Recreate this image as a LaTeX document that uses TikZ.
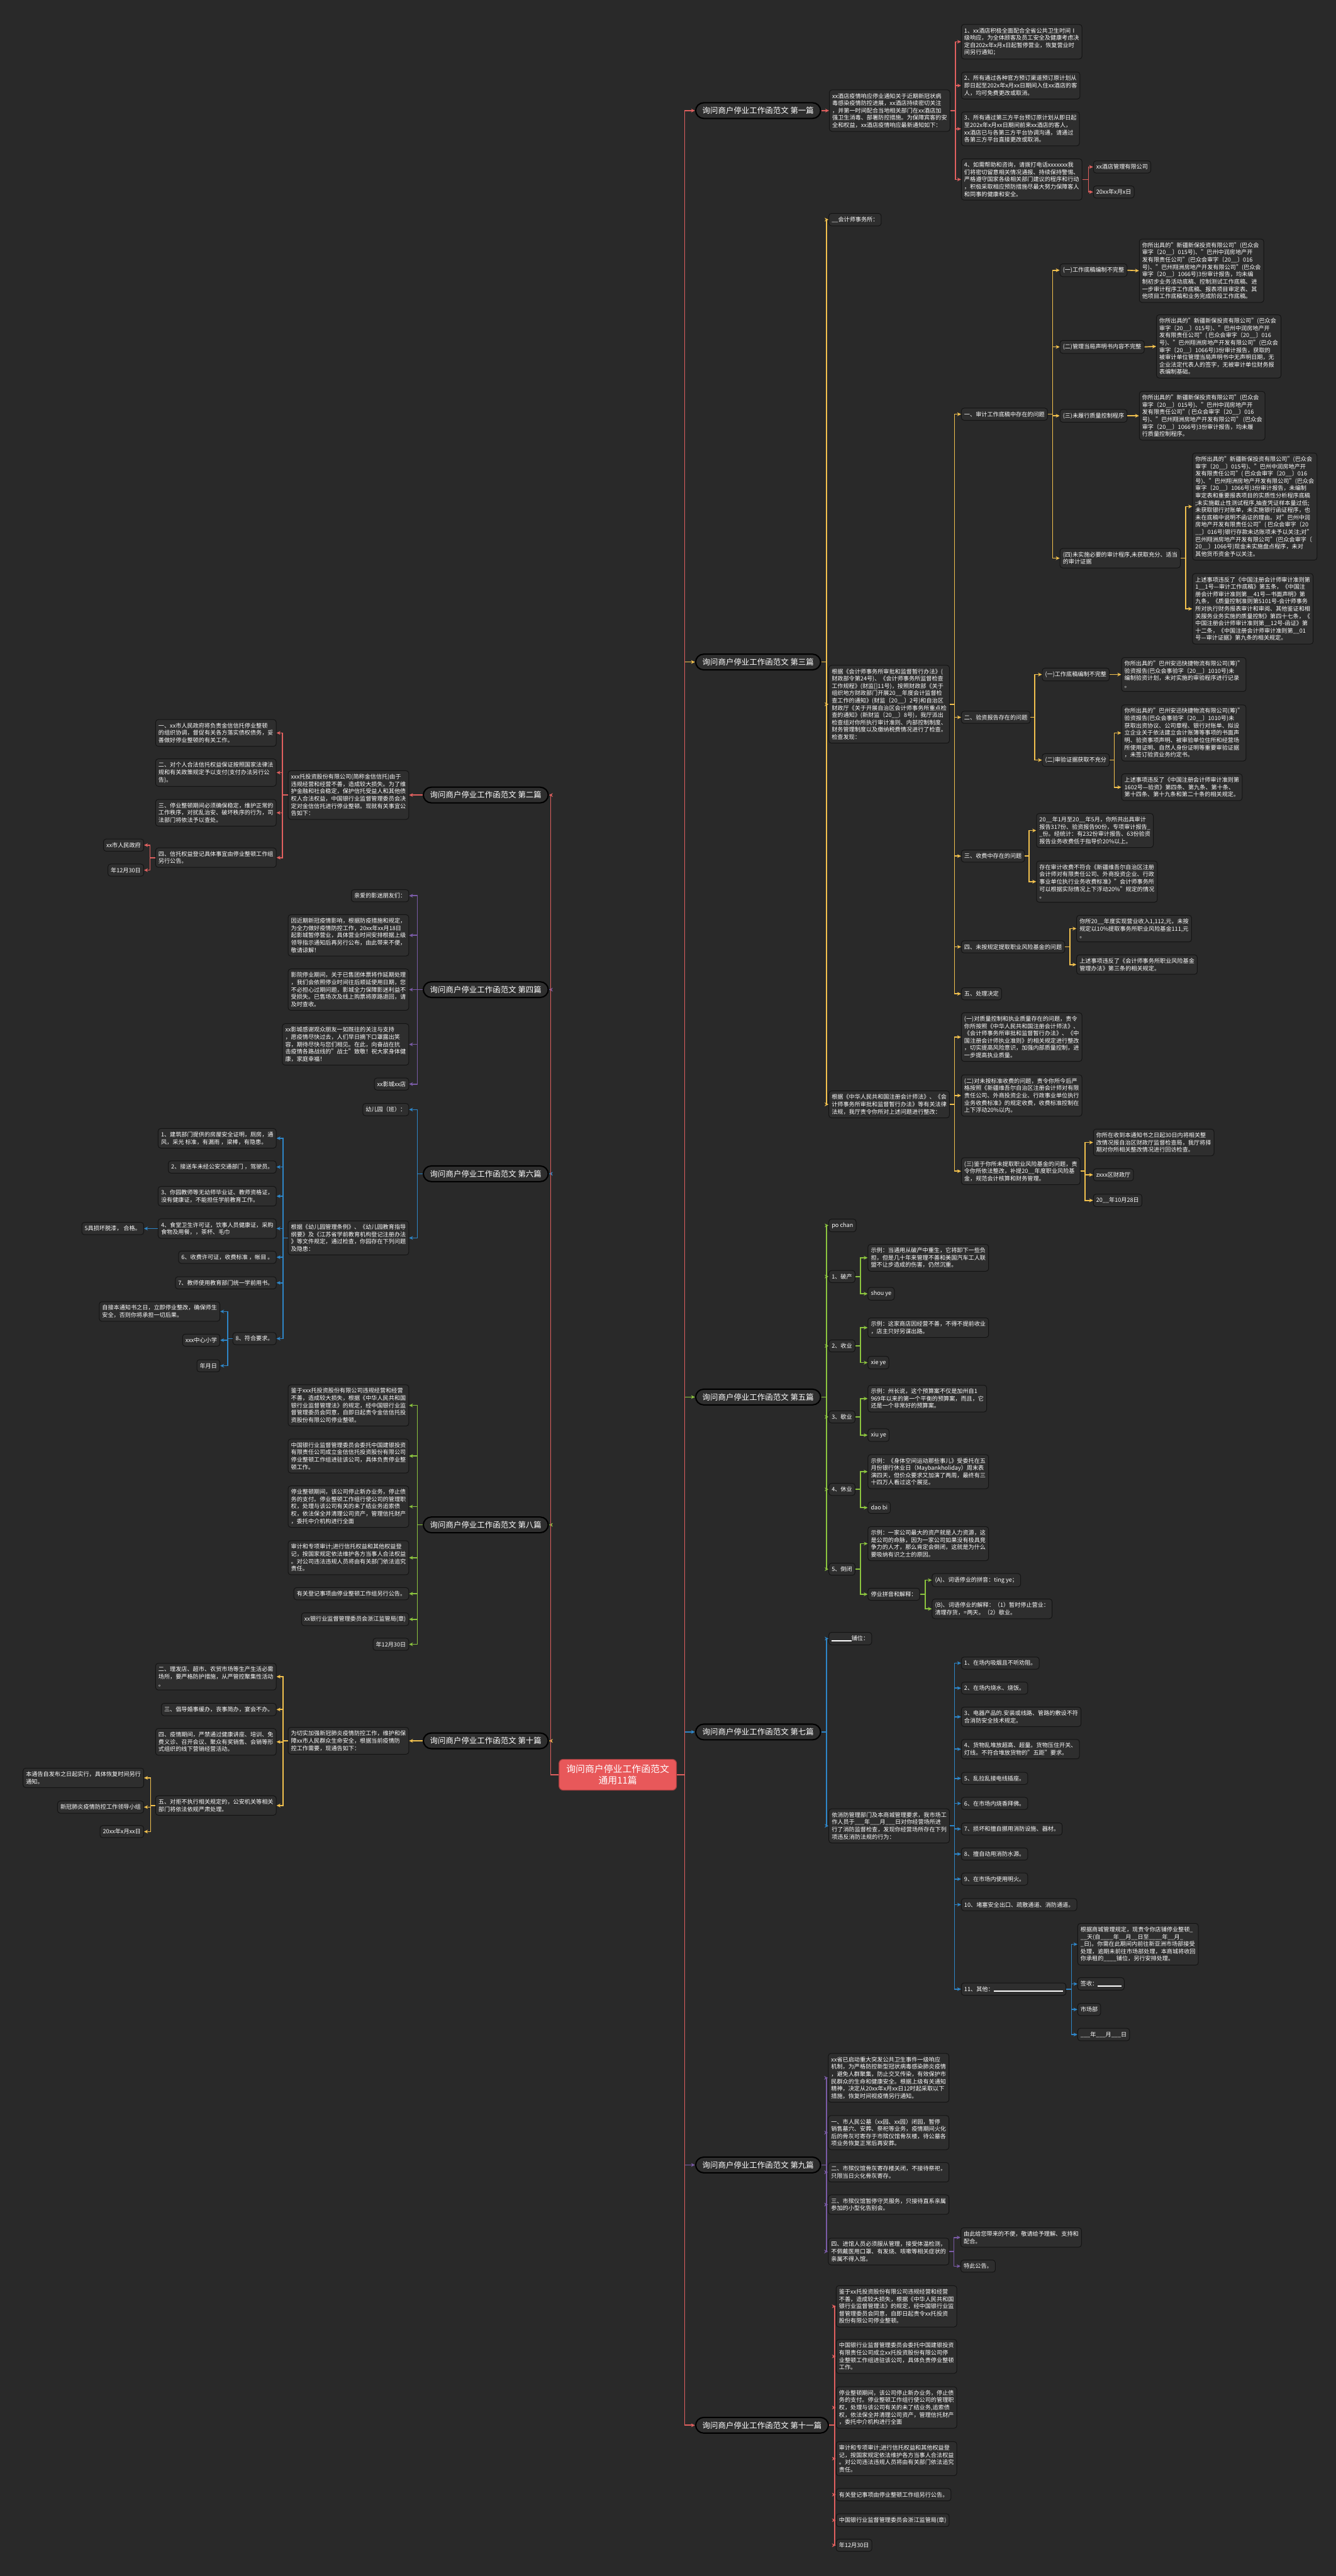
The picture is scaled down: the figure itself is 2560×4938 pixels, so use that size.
\documentclass[tikz,border=0pt]{standalone}
\usepackage{fontspec}
\setmainfont{Noto Sans CJK SC}
\usetikzlibrary{arrows.meta}
\definecolor{bg}{HTML}{292929}
\definecolor{boxfill}{HTML}{2E2E2E}
\definecolor{boxline}{HTML}{141414}
\definecolor{cred}{HTML}{E0605F}
\definecolor{cyel}{HTML}{F2C14E}
\definecolor{cgrn}{HTML}{8CC43F}
\definecolor{cblu}{HTML}{2E86C8}
\definecolor{cpur}{HTML}{7A5BA6}
\definecolor{rootred}{HTML}{E8585A}
\newcommand{\ft}{\fontsize{3.13pt}{3.98pt}\selectfont}
\newcommand{\fb}{\fontsize{4.27pt}{5.4pt}\selectfont}
\newcommand{\fr}{\fontsize{5.1pt}{6.4pt}\selectfont}
\newcommand{\blank}[1]{\rule[-0.015cm]{#1}{0.025cm}}
\tikzset{
  box/.style    = {draw=boxline, fill=boxfill, rounded corners=0.05cm, line width=0.012cm,
                   align=left, font=\ft, text=white, inner xsep=0.055cm, inner ysep=0.065cm},
  rbox/.style   = {box, anchor=west},
  lbox/.style   = {box, anchor=east},
  pill/.style   = {draw=black, fill=boxfill, rounded corners=0.155cm, line width=0.025cm,
                   font=\fb, text=white, inner xsep=0.13cm, inner ysep=0.08cm, anchor=west},
  rootbox/.style= {draw=rootred!70!black, fill=rootred, rounded corners=0.08cm, font=\fr,
                   text=white, align=center, inner xsep=0.14cm, inner ysep=0.1cm},
  lk/.style     = {draw=#1, line width=0.02cm, -{Stealth[length=0.075cm, width=0.07cm]}},
}

\begin{document}
\begin{tikzpicture}[x=0.01cm, y=-0.01cm]
  \fill[bg] (0,0) rectangle (2560,4938);
  \useasboundingbox (0,0) rectangle (2560,4938);

  \node[rootbox] (root) at (1184,3402) {询问商户停业工作函范文\\通用11篇};

  % ---------- right side ----------
  % 第一篇
  \node[pill] (b1) at (1332,212) {询问商户停业工作函范文 第一篇};
  \node[rbox] (a0) at (1589,212) {xx酒店疫情响应停业通知关于近期新冠状病\\毒感染疫情防控进展，xx酒店持续密切关注\\，并第一时间配合当地相关部门在xx酒店加\\强卫生消毒、部署防控措施。为保障宾客的安\\全和权益，xx酒店疫情响应最新通知如下：};
  \node[rbox] (a1) at (1842,80) {1、xx酒店积极全面配合全省公共卫生时间Ⅰ\\级响应，为全体顾客及员工安全及健康考虑决\\定自202x年x月x日起暂停营业，恢复营业时\\间另行通知；};
  \node[rbox] (a2) at (1842,164) {2、所有通过各种官方预订渠道预订原计划从\\即日起至202x年x月xx日期间入住xx酒店的客\\人，均可免费更改或取消。};
  \node[rbox] (a3) at (1842,247) {3、所有通过第三方平台预订原计划从即日起\\至202x年x月xx日期间前来xx酒店的客人，\\xx酒店已与各第三方平台协调沟通，请通过\\各第三方平台直接更改或取消。};
  \node[rbox] (a4) at (1842,344) {4、如需帮助和咨询，请拨打电话xxxxxxx我\\们将密切留意相关情况通报、持续保持警惕、\\严格遵守国家各级相关部门建议的程序和行动\\，积极采取相应预防措施尽最大努力保障客人\\和同事的健康和安全。};
  \node[rbox] (a4a) at (2095,320) {xx酒店管理有限公司};
  \node[rbox] (a4b) at (2095,368) {20xx年x月x日};
  \draw[lk=cred] (b1.east) -- (a0.west);
  \foreach \c in {a1,a2,a3,a4} \draw[lk=cred] (a0.east) -- ++(10,0) |- (\c.west);
  \foreach \c in {a4a,a4b} \draw[lk=cred] (a4.east) -- ++(12,0) |- (\c.west);

  % 第三篇
  \node[pill] (b3) at (1332,1269) {询问商户停业工作函范文 第三篇};
  \node[rbox] (c0) at (1588,421) {\_\_会计师事务所：};
  \node[rbox] (c1) at (1588,1350) {根据《会计师事务所审批和监督暂行办法》(\\财政部令第24号)、《会计师事务所监督检查\\工作规程》(财监[]11号)，按照财政部《关于\\组织地方财政部门开展20\_\_年度会计监督检\\查工作的通知》(财监〔20\_\_〕2号)和自治区\\财政厅《关于开展自治区会计师事务所重点检\\查的通知》(新财监〔20\_\_〕8号)，我厅派出\\检查组对你所执行审计准则、内部控制制度、\\财务管理制度以及缴纳税费情况进行了检查。\\检查发现：};
  \node[rbox] (c2) at (1588,2117) {根据《中华人民共和国注册会计师法》、《会\\计师事务所审批和监督暂行办法》等有关法律\\法规，我厅责令你所对上述问题进行整改：};
  \node[rbox] (q1) at (1842,794) {一、审计工作底稿中存在的问题};
  \node[rbox] (q1a) at (2031,518) {(一)工作底稿编制不完整};
  \node[rbox] (q1ax) at (2183,519) {你所出具的"新疆新保投资有限公司"(巴众会\\审字〔20\_\_〕015号)、"巴州中润房地产开\\发有限责任公司"(巴众会审字〔20\_\_〕016\\号)、"巴州翔洲房地产开发有限公司"(巴众会\\审字〔20\_\_〕1066号)3份审计报告，均未编\\制初步业务活动底稿、控制测试工作底稿、进\\一步审计程序工作底稿、报表项目审定表、其\\他项目工作底稿和业务完成阶段工作底稿。};
  \node[rbox] (q1b) at (2031,665) {(二)管理当局声明书内容不完整};
  \node[rbox] (q1bx) at (2216,664) {你所出具的"新疆新保投资有限公司"(巴众会\\审字〔20\_\_〕015号)、"巴州中润房地产开\\发有限责任公司"( 巴众会审字〔20\_\_〕016\\号)、"巴州翔洲房地产开发有限公司"(巴众会\\审字〔20\_\_〕1066号)3份审计报告，获取的\\被审计单位管理当局声明书中无声明日期，无\\企业法定代表人的签字，无被审计单位财务报\\表编制基础。};
  \node[rbox] (q1c) at (2031,797) {(三)未履行质量控制程序};
  \node[rbox] (q1cx) at (2183,797) {你所出具的"新疆新保投资有限公司"(巴众会\\审字〔20\_\_〕015号)、"巴州中润房地产开\\发有限责任公司"( 巴众会审字〔20\_\_〕016\\号)、"巴州翔洲房地产开发有限公司" (巴众会\\审字〔20\_\_〕1066号)3份审计报告，均未履\\行质量控制程序。};
  \node[rbox] (q1d) at (2031,1070) {(四)未实施必要的审计程序,未获取充分、适当\\的审计证据};
  \node[rbox] (q1d1) at (2285,971) {你所出具的"新疆新保投资有限公司"(巴众会\\审字〔20\_\_〕015号)、"巴州中润房地产开\\发有限责任公司"( 巴众会审字〔20\_\_〕016\\号)、"巴州翔洲房地产开发有限公司"(巴众会\\审字〔20\_\_〕1066号)3份审计报告，未编制\\审定表和重要报表项目的实质性分析程序底稿\\;未实施截止性测试程序,抽查凭证样本量过低;\\未获取银行对账单，未实施银行函证程序，也\\未在底稿中说明不函证的理由。对"巴州中润\\房地产开发有限责任公司"( 巴众会审字〔20\\\_\_〕016号)银行存款未达账项未予以关注;对"\\巴州翔洲房地产开发有限公司"(巴众会审字〔\\20\_\_〕1066号)现金未实施盘点程序，未对\\其他货币资金予以关注。};
  \node[rbox] (q1d2) at (2285,1167) {上述事项违反了《中国注册会计师审计准则第\\1\_\_1号—审计工作底稿》第五条，《中国注\\册会计师审计准则第\_\_41号—书面声明》第\\九条，《质量控制准则第5101号-会计师事务\\所对执行财务报表审计和审阅、其他鉴证和相\\关服务业务实施的质量控制》第四十七条，《\\中国注册会计师审计准则第\_\_12号-函证》第\\十二条，《中国注册会计师审计准则第\_\_01\\号—审计证据》第九条的相关规定。};
  \node[rbox] (q2) at (1842,1375) {二、验资报告存在的问题};
  \node[rbox] (q2a) at (1997,1293) {(一)工作底稿编制不完整};
  \node[rbox] (q2ax) at (2149,1293) {你所出具的"巴州安迅快捷物流有限公司(筹)"\\验资报告(巴众会事验字〔20\_\_〕1010号)未\\编制验资计划，未对实施的审验程序进行记录\\。};
  \node[rbox] (q2b) at (1997,1457) {(二)审验证据获取不充分};
  \node[rbox] (q2b1) at (2149,1405) {你所出具的"巴州安迅快捷物流有限公司(筹)"\\验资报告(巴众会事验字〔20\_\_〕1010号)未\\获取出资协议、公司章程、银行对账单、拟设\\立企业关于依法建立会计账簿等事项的书面声\\明、验资事项声明、被审验单位住所和经营场\\所使用证明、自然人身份证明等重要审验证据\\，未签订验资业务约定书。};
  \node[rbox] (q2b2) at (2149,1509) {上述事项违反了《中国注册会计师审计准则第\\1602号—验资》第四条、第九条、第十条、\\第十四条、第十九条和第二十条的相关规定。};
  \node[rbox] (q3) at (1842,1641) {三、收费中存在的问题};
  \node[rbox] (q3a) at (1986,1592) {20\_\_年1月至20\_\_年5月，你所共出具审计\\报告317份、验资报告90份，专项审计报告\_\\\_份。经统计：有232份审计报告、63份验资\\报告业务收费低于指导价20\%以上。};
  \node[rbox] (q3b) at (1986,1690) {存在审计收费不符合《新疆维吾尔自治区注册\\会计师对有限责任公司、外商投资企业、行政\\事业单位执行业务收费标准》"会计师事务所\\可以根据实际情况上下浮动20\%"规定的情况\\。};
  \node[rbox] (q4) at (1842,1815) {四、未按规定提取职业风险基金的问题};
  \node[rbox] (q4a) at (2063,1780) {你所20\_\_年度实现营业收入1,112,元，未按\\规定以10\%提取事务所职业风险基金111,元\\。};
  \node[rbox] (q4b) at (2063,1849) {上述事项违反了《会计师事务所职业风险基金\\管理办法》第三条的相关规定。};
  \node[rbox] (q5) at (1842,1905) {五、处理决定};
  \node[rbox] (r1) at (1842,1988) {(一)对质量控制和执业质量存在的问题，责令\\你所按照《中华人民共和国注册会计师法》、\\《会计师事务所审批和监督暂行办法》、《中\\国注册会计师执业准则》的相关规定进行整改\\，切实提高风险意识，加强内部质量控制，进\\一步提高执业质量。};
  \node[rbox] (r2) at (1842,2100) {(二)对未按标准收费的问题，责令你所今后严\\格按照《新疆维吾尔自治区注册会计师对有限\\责任公司、外商投资企业、行政事业单位执行\\业务收费标准》的规定收费，收费标准控制在\\上下浮动20\%以内。};
  \node[rbox] (r3) at (1842,2245) {(三)鉴于你所未提取职业风险基金的问题，责\\令你所依法整改，补提20\_\_年度职业风险基\\金，规范会计核算和财务管理。};
  \node[rbox] (r3a) at (2095,2190) {你所在收到本通知书之日起30日内将相关整\\改情况报自治区财政厅监督检查局，我厅将择\\期对你所相关整改情况进行回访检查。};
  \node[rbox] (r3b) at (2095,2252) {zxxx区财政厅};
  \node[rbox] (r3c) at (2095,2301) {20\_\_年10月28日};
  \foreach \c in {c0,c1,c2} \draw[lk=cyel] (b3.east) -- ++(10,0) |- (\c.west);
  \foreach \c in {q1,q2,q3,q4,q5} \draw[lk=cyel] (c1.east) -- ++(9,0) |- (\c.west);
  \foreach \c in {q1a,q1b,q1c,q1d} \draw[lk=cyel] (q1.east) -- ++(9,0) |- (\c.west);
  \draw[lk=cyel] (q1a.east) -- (q1ax.west);
  \draw[lk=cyel] (q1b.east) -- (q1bx.west);
  \draw[lk=cyel] (q1c.east) -- (q1cx.west);
  \foreach \c in {q1d1,q1d2} \draw[lk=cyel] (q1d.east) -- ++(10,0) |- (\c.west);
  \foreach \c in {q2a,q2b} \draw[lk=cyel] (q2.east) -- ++(8,0) |- (\c.west);
  \draw[lk=cyel] (q2a.east) -- (q2ax.west);
  \foreach \c in {q2b1,q2b2} \draw[lk=cyel] (q2b.east) -- ++(9,0) |- (\c.west);
  \foreach \c in {q3a,q3b} \draw[lk=cyel] (q3.east) -- ++(8,0) |- (\c.west);
  \foreach \c in {q4a,q4b} \draw[lk=cyel] (q4.east) -- ++(9,0) |- (\c.west);
  \foreach \c in {r1,r2,r3} \draw[lk=cyel] (c2.east) -- ++(9,0) |- (\c.west);
  \foreach \c in {r3a,r3b,r3c} \draw[lk=cyel] (r3.east) -- ++(9,0) |- (\c.west);

  % 第五篇
  \node[pill] (b5) at (1332,2678) {询问商户停业工作函范文 第五篇};
  \node[rbox] (e0) at (1588,2349) {po chan};
  \node[rbox] (e1) at (1588,2447) {1、破产};
  \node[rbox] (e1a) at (1663,2411) {示例：当通用从破产中重生，它将卸下一些负\\担，但是几十年来管理不善和美国汽车工人联\\盟不让步造成的伤害，仍然沉重。};
  \node[rbox] (e1b) at (1663,2480) {shou ye};
  \node[rbox] (e2) at (1588,2580) {2、收业};
  \node[rbox] (e2a) at (1663,2545) {示例：这家商店因经营不善，不得不提前收业\\，店主只好另谋出路。};
  \node[rbox] (e2b) at (1663,2612) {xie ye};
  \node[rbox] (e3) at (1588,2716) {3、歇业};
  \node[rbox] (e3a) at (1663,2681) {示例：州长说，这个预算案不仅是加州自1\\969年以来的第一个平衡的预算案，而且，它\\还是一个非常好的预算案。};
  \node[rbox] (e3b) at (1663,2751) {xiu ye};
  \node[rbox] (e4) at (1588,2855) {4、休业};
  \node[rbox] (e4a) at (1663,2821) {示例：《身体空间运动那些事儿》受委托在五\\月份银行休业日（Maybankholiday）周末表\\演四天，但价众要求又加演了两周，最终有三\\十四万人看过这个展览。};
  \node[rbox] (e4b) at (1663,2890) {dao bi};
  \node[rbox] (e5) at (1588,3008) {5、倒闭};
  \node[rbox] (e5a) at (1663,2959) {示例：一家公司最大的资产就是人力资源，这\\是公司的命脉，因为一家公司如果没有极具竞\\争力的人才，那么肯定会倒闭，这就是为什么\\要吸纳有识之士的原因。};
  \node[rbox] (e5b) at (1663,3056) {停业拼音和解释：};
  \node[rbox] (e5b1) at (1786,3029) {(A)、词语停业的拼音：ting ye；};
  \node[rbox] (e5b2) at (1786,3084) {(B)、词语停业的解释：（1）暂时停止营业：\\清理存货，=两天。（2）歇业。};
  \foreach \c in {e0,e1,e2,e3,e4,e5} \draw[lk=cgrn] (b5.east) -- ++(10,0) |- (\c.west);
  \foreach \p in {e1,e2,e3,e4,e5} {
    \draw[lk=cgrn] (\p.east) -- ++(10,0) |- (\p a.west);
    \draw[lk=cgrn] (\p.east) -- ++(10,0) |- (\p b.west);
  }
  \foreach \c in {e5b1,e5b2} \draw[lk=cgrn] (e5b.east) -- ++(10,0) |- (\c.west);

  % 第七篇
  \node[pill] (b7) at (1332,3320) {询问商户停业工作函范文 第七篇};
  \node[rbox] (g0) at (1588,3141) {\blank{0.38cm}铺位：};
  \node[rbox] (g1) at (1588,3500) {依消防管理部门及本商城管理要求，我市场工\\作人员于\_\_\_年\_\_\_月\_\_\_日对你经营场所进\\行了消防监督检查，发现你经营场所存在下列\\项违反消防法规的行为：};
  \foreach \n/\y/\t in {1/3188/{1、在场内吸烟且不听劝阻。},
                        2/3236/{2、在场内烧水、烧饭。},
                        3/3291/{3、电器产品的.安装或线路、管路的敷设不符\\合消防安全技术规定。},
                        4/3353/{4、货物乱堆放超高、超量。货物压住开关、\\灯线。不符合堆放货物的"五距"要求。},
                        5/3409/{5、乱拉乱接电线插座。},
                        6/3457/{6、在市场内烧香拜佛。},
                        7/3506/{7、损坏和擅自挪用消防设施、器材。},
                        8/3554/{8、擅自动用消防水源。},
                        9/3602/{9、在市场内使用明火。},
                        10/3651/{10、堵塞安全出口、疏散通道、消防通道。}}
    \node[rbox] (f\n) at (1842,\y) {\t};
  \node[rbox] (f11) at (1842,3813) {11、其他：\blank{1.33cm}};
  \node[rbox] (f11a) at (2065,3727) {根据商城管理规定，现责令你店铺停业整顿\_\\\_\_天(自\_\_\_\_年\_\_月\_\_日至\_\_\_\_年\_\_月\_\\\_日)。你需在此期间内前往新亚洲市场部接受\\处理，逾期未前往市场部处理，本商城将收回\\你承租的\_\_\_\_铺位，另行安排处理。};
  \node[rbox] (f11b) at (2065,3803) {签收：\blank{0.45cm}};
  \node[rbox] (f11c) at (2065,3852) {市场部};
  \node[rbox] (f11d) at (2065,3900) {\_\_\_年\_\_\_月\_\_\_日};
  \foreach \c in {g0,g1} \draw[lk=cblu] (b7.east) -- ++(10,0) |- (\c.west);
  \foreach \n in {1,...,11} \draw[lk=cblu] (g1.east) -- ++(9,0) |- (f\n.west);
  \foreach \c in {f11a,f11b,f11c,f11d} \draw[lk=cblu] (f11.east) -- ++(10,0) |- (\c.west);

  % 第九篇
  \node[pill] (b9) at (1332,4150) {询问商户停业工作函范文 第九篇};
  \node[rbox] (v1) at (1587,3983) {xx省已启动重大突发公共卫生事件一级响应\\机制，为严格防控新型冠状病毒感染肺炎疫情\\，避免人群聚集，防止交叉传染，有效保护市\\民群众的生命和健康安全。根据上级有关通知\\精神，决定从20xx年x月xx日12时起采取以下\\措施，恢复时间视疫情另行通知。};
  \node[rbox] (v2) at (1587,4088) {一、市人民公墓（xx园、xx园）闭园，暂停\\销售墓穴、安葬、祭祀等业务，疫情期间火化\\后的骨灰可寄存于市殡仪馆骨灰楼，待公墓各\\项业务恢复正常后再安葬。};
  \node[rbox] (v3) at (1587,4164) {二、市殡仪馆骨灰寄存楼关闭，不接待祭祀，\\只限当日火化骨灰寄存。};
  \node[rbox] (v4) at (1587,4226) {三、市殡仪馆暂停守灵服务，只接待直系亲属\\参加的小型化告别会。};
  \node[rbox] (v5) at (1587,4316) {四、进馆人员必须服从管理，接受体温检测，\\不佩戴医用口罩、有发烧、咳嗽等相关症状的\\亲属不得入馆。};
  \node[rbox] (v5a) at (1841,4289) {由此给您带来的不便，敬请给予理解、支持和\\配合。};
  \node[rbox] (v5b) at (1841,4344) {特此公告。};
  \foreach \c in {v1,v2,v3,v4,v5} \draw[lk=cpur] (b9.east) -- ++(10,0) |- (\c.west);
  \foreach \c in {v5a,v5b} \draw[lk=cpur] (v5.east) -- ++(9,0) |- (\c.west);

  % 第十一篇
  \node[pill] (b11) at (1332,4649) {询问商户停业工作函范文 第十一篇};
  \node[rbox] (w1) at (1602,4421) {鉴于xx托投资股份有限公司违规经营和经营\\不善，造成较大损失，根据《中华人民共和国\\银行业监督管理法》的规定，经中国银行业监\\督管理委员会同意，自即日起责令xx托投资\\股份有限公司停业整顿。};
  \node[rbox] (w2) at (1602,4517) {中国银行业监督管理委员会委托中国建银投资\\有限责任公司成立xx托投资股份有限公司停\\业整顿工作组进驻该公司，具体负责停业整顿\\工作。};
  \node[rbox] (w3) at (1602,4615) {停业整顿期间，该公司停止新办业务，停止债\\务的支付。停业整顿工作组行使公司的管理职\\权，处理与该公司有关的未了结业务,追索债\\权，依法保全并清理公司资产，管理信托财产\\，委托中介机构进行全面};
  \node[rbox] (w4) at (1602,4713) {审计和专项审计;进行信托权益和其他权益登\\记，按国家规定依法维护各方当事人合法权益\\。对公司违法违规人员将由有关部门依法追究\\责任。};
  \node[rbox] (w5) at (1602,4782) {有关登记事项由停业整顿工作组另行公告。};
  \node[rbox] (w6) at (1602,4831) {中国银行业监督管理委员会浙江监管局(章)};
  \node[rbox] (w7) at (1602,4879) {年12月30日};
  \foreach \c in {w1,w2,w3,w4,w5,w6,w7} \draw[lk=cred] (b11.east) -- ++(11,0) |- (\c.west);

  % ---------- left side ----------
  % 第二篇
  \node[pill] (l2) at (810,1524) {询问商户停业工作函范文 第二篇};
  \node[lbox] (x0) at (784,1524) {xxx托投资股份有限公司(简称金信信托)由于\\违规经营和经营不善，造成较大损失。为了维\\护金融和社会稳定，保护信托受益人和其他债\\权人合法权益，中国银行业监督管理委员会决\\定对金信信托进行停业整顿。现就有关事宜公\\告如下：};
  \node[lbox] (x1) at (530,1405) {一、xx市人民政府将负责金信信托停业整顿\\的组织协调，督促有关各方落实债权债务，妥\\善做好停业整顿的有关工作。};
  \node[lbox] (x2) at (530,1481) {二、对个人合法信托权益保证按照国家法律法\\规和有关政策规定予以支付(支付办法另行公\\告)。};
  \node[lbox] (x3) at (530,1558) {三、停业整顿期间必须确保稳定，维护正常的\\工作秩序，对扰乱治安、破坏秩序的行为，司\\法部门将依法予以查处。};
  \node[lbox] (x4) at (530,1644) {四、信托权益登记具体事宜由停业整顿工作组\\另行公告。};
  \node[lbox] (x4a) at (276,1620) {xx市人民政府};
  \node[lbox] (x4b) at (276,1668) {年12月30日};
  \draw[lk=cred] (l2.west) -- (x0.east);
  \foreach \c in {x1,x2,x3,x4} \draw[lk=cred] (x0.west) -- ++(-10,0) |- (\c.east);
  \foreach \c in {x4a,x4b} \draw[lk=cred] (x4.west) -- ++(-10,0) |- (\c.east);

  % 第四篇
  \node[pill] (l4) at (810,1897) {询问商户停业工作函范文 第四篇};
  \node[lbox] (y1) at (784,1717) {亲爱的影迷朋友们：};
  \node[lbox] (y2) at (784,1793) {因近期新冠疫情影响，根据防疫措施和规定，\\为全力做好疫情防控工作，20xx年xx月18日\\起影城暂停营业，具体营业时间安排根据上级\\领导指示通知后再另行公布，由此带来不便，\\敬请谅解！};
  \node[lbox] (y3) at (784,1897) {影院停业期间，关于已售团体票将作延期处理\\，我们会依照停业时间往后顺延使用日期，您\\不必担心过期问题，影城全力保障影迷利益不\\受损失。已售场次及线上购票将原路退回，请\\及时查收。};
  \node[lbox] (y4) at (784,2002) {xx影城感谢观众朋友一如既往的关注与支持\\，愿疫情尽快过去，人们早日摘下口罩露出笑\\容，期待尽快与您们相见。在此，向奋战在抗\\击疫情各路战线的"战士"致敬！祝大家身体健\\康，家庭幸福！};
  \node[lbox] (y5) at (784,2078) {xx影城xx店};
  \foreach \c in {y1,y2,y3,y4,y5} \draw[lk=cpur] (l4.west) -- ++(-10,0) |- (\c.east);

  % 第六篇
  \node[pill] (l6) at (810,2250) {询问商户停业工作函范文 第六篇};
  \node[lbox] (z0) at (784,2127) {幼儿园（班）：};
  \node[lbox] (z1) at (784,2373) {根据《幼儿园管理条例》、《幼儿园教育指导\\纲要》及《江苏省学前教育机构登记注册办法\\》等文件规定，通过检查，你园存在下列问题\\及隐患：};
  \node[lbox] (s1) at (530,2182) {1、建筑部门提供的房屋安全证明，厕房，通\\风，采光 标准，有漏雨 ，梁棒，有隐患。};
  \node[lbox] (s2) at (530,2237) {2、接送车未经公安交通部门 ，驾驶员。};
  \node[lbox] (s3) at (530,2293) {3、你园教师等无幼师毕业证、教师资格证，\\没有健康证，不能担任学前教育工作。};
  \node[lbox] (s4) at (530,2355) {4、食堂卫生许可证，饮事人员健康证，采购\\食物及用餐，，茶杯、毛巾};
  \node[lbox] (s4a) at (276,2355) {5具损坏脱漆， 合格。};
  \node[lbox] (s6) at (530,2410) {6、收费许可证，收费标准 ，帐目 。};
  \node[lbox] (s7) at (530,2459) {7、教师使用教育部门统一学前用书。};
  \node[lbox] (s8) at (530,2566) {8、符合要求。};
  \node[lbox] (s8a) at (422,2514) {自接本通知书之日，立即停业整改，确保师生\\安全，否则你将承担一切后果。};
  \node[lbox] (s8b) at (422,2569) {xxx中心小学};
  \node[lbox] (s8c) at (422,2618) {年月日};
  \foreach \c in {z0,z1} \draw[lk=cblu] (l6.west) -- ++(-10,0) |- (\c.east);
  \foreach \c in {s1,s2,s3,s4,s6,s7,s8} \draw[lk=cblu] (z1.west) -- ++(-9,0) |- (\c.east);
  \draw[lk=cblu] (s4.west) -- (s4a.east);
  \foreach \c in {s8a,s8b,s8c} \draw[lk=cblu] (s8.west) -- ++(-9,0) |- (\c.east);

  % 第八篇
  \node[pill] (l8) at (810,2923) {询问商户停业工作函范文 第八篇};
  \node[lbox] (h1) at (784,2694) {鉴于xxx托投资股份有限公司违规经营和经营\\不善，造成较大损失，根据《中华人民共和国\\银行业监督管理法》的规定，经中国银行业监\\督管理委员会同意，自即日起责令金信信托投\\资股份有限公司停业整顿。};
  \node[lbox] (h2) at (784,2791) {中国银行业监督管理委员会委托中国建银投资\\有限责任公司成立金信信托投资股份有限公司\\停业整顿工作组进驻该公司，具体负责停业整\\顿工作。};
  \node[lbox] (h3) at (784,2888) {停业整顿期间，该公司停止新办业务，停止债\\务的支付。停业整顿工作组行使公司的管理职\\权，处理与该公司有关的未了结业务追索债\\权，依法保全并清理公司资产，管理信托财产\\，委托中介机构进行全面};
  \node[lbox] (h4) at (784,2986) {审计和专项审计;进行信托权益和其他权益登\\记，按国家规定依法维护各方当事人合法权益\\。对公司违法违规人员将由有关部门依法追究\\责任。};
  \node[lbox] (h5) at (784,3055) {有关登记事项由停业整顿工作组另行公告。};
  \node[lbox] (h6) at (784,3104) {xx银行业监督管理委员会浙江监管局(章)};
  \node[lbox] (h7) at (784,3152) {年12月30日};
  \foreach \c in {h1,h2,h3,h4,h5,h6,h7} \draw[lk=cgrn] (l8.west) -- ++(-10,0) |- (\c.east);

  % 第十篇
  \node[pill] (l10) at (810,3337) {询问商户停业工作函范文 第十篇};
  \node[lbox] (k0) at (784,3337) {为切实加强新冠肺炎疫情防控工作，维护和保\\障xx市人民群众生命安全，根据当前疫情防\\控工作需要，现通告如下：};
  \node[lbox] (k2) at (530,3214) {二、理发店、超市、农贸市场等生产生活必需\\场所，要严格防护措施，从严管控聚集性活动\\。};
  \node[lbox] (k3) at (530,3277) {三、倡导婚事缓办，丧事简办，宴会不办。};
  \node[lbox] (k4) at (530,3339) {四、疫情期间，严禁通过健康讲座、培训、免\\费义诊、召开会议、聚众有奖销售、会销等形\\式组织的线下营销经营活动。};
  \node[lbox] (k5) at (530,3461) {五、对拒不执行相关规定的，公安机关等相关\\部门将依法依规严肃处理。};
  \node[lbox] (k5a) at (276,3408) {本通告自发布之日起实行，具体恢复时间另行\\通知。};
  \node[lbox] (k5b) at (276,3464) {新冠肺炎疫情防控工作领导小组};
  \node[lbox] (k5c) at (276,3511) {20xx年x月xx日};
  \draw[lk=cyel] (l10.west) -- (k0.east);
  \foreach \c in {k2,k3,k4,k5} \draw[lk=cyel] (k0.west) -- ++(-9,0) |- (\c.east);
  \foreach \c in {k5a,k5b,k5c} \draw[lk=cyel] (k5.west) -- ++(-9,0) |- (\c.east);

  % ---------- root links ----------
  \foreach \b/\c in {b3/cyel, b5/cgrn, b7/cblu, b9/cpur, b1/cred, b11/cred}
    \draw[lk=\c] (root.east) -- ++(15,0) |- (\b.west);
  \foreach \b/\c in {l4/cpur, l6/cblu, l8/cgrn, l10/cyel, l2/cred}
    \draw[lk=\c] (root.west) -- ++(-15,0) |- (\b.east);
\end{tikzpicture}
\end{document}
